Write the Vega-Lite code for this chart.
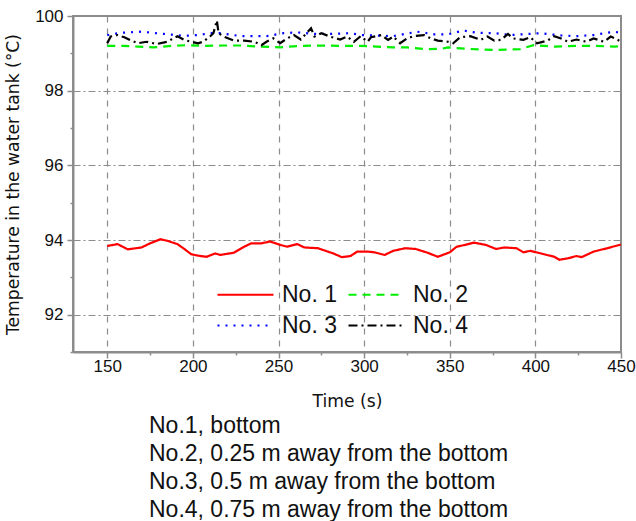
{
  "$schema": "https://vega.github.io/schema/vega-lite/v6.json",
  "width": 548,
  "height": 336,
  "autosize": {"type": "none"},
  "padding": {"left": 73, "top": 16, "right": 15, "bottom": 169},
  "background": "white",
  "view": {"stroke": "#8c8c8c", "strokeWidth": 2},
  "config": {
    "axis": {
      "domainColor": "#8c8c8c",
      "domainWidth": 2,
      "tickColor": "#8c8c8c",
      "tickWidth": 1.5,
      "gridColor": "#8c8c8c",
      "gridWidth": 1.2,
      "labelFont": "Liberation Sans",
      "labelFontSize": 17,
      "labelColor": "#111111",
      "titleFont": "DejaVu Sans",
      "titleFontSize": 17.2,
      "titleFontWeight": "normal",
      "titleColor": "#111111"
    }
  },
  "title": {
    "text": ["No.1, bottom", "No.2, 0.25 m away from the bottom", "No.3, 0.5 m away from the bottom", "No.4, 0.75 m away from the bottom"],
    "orient": "bottom",
    "anchor": "start",
    "frame": "group",
    "dx": 76,
    "offset": 6,
    "font": "Liberation Sans",
    "fontSize": 23,
    "fontWeight": "normal",
    "lineHeight": 28,
    "color": "#111111"
  },
  "data": {
    "values": [
      {"time": 150, "temp": 93.84, "sensor": "No. 1"},
      {"time": 156, "temp": 93.89, "sensor": "No. 1"},
      {"time": 162, "temp": 93.75, "sensor": "No. 1"},
      {"time": 170, "temp": 93.80, "sensor": "No. 1"},
      {"time": 175, "temp": 93.91, "sensor": "No. 1"},
      {"time": 181, "temp": 94.02, "sensor": "No. 1"},
      {"time": 185, "temp": 93.98, "sensor": "No. 1"},
      {"time": 191, "temp": 93.89, "sensor": "No. 1"},
      {"time": 195, "temp": 93.76, "sensor": "No. 1"},
      {"time": 199, "temp": 93.62, "sensor": "No. 1"},
      {"time": 203, "temp": 93.58, "sensor": "No. 1"},
      {"time": 208, "temp": 93.55, "sensor": "No. 1"},
      {"time": 213, "temp": 93.64, "sensor": "No. 1"},
      {"time": 216, "temp": 93.60, "sensor": "No. 1"},
      {"time": 224, "temp": 93.66, "sensor": "No. 1"},
      {"time": 230, "temp": 93.82, "sensor": "No. 1"},
      {"time": 234, "temp": 93.91, "sensor": "No. 1"},
      {"time": 240, "temp": 93.91, "sensor": "No. 1"},
      {"time": 245, "temp": 93.96, "sensor": "No. 1"},
      {"time": 251, "temp": 93.87, "sensor": "No. 1"},
      {"time": 255, "temp": 93.82, "sensor": "No. 1"},
      {"time": 261, "temp": 93.89, "sensor": "No. 1"},
      {"time": 265, "temp": 93.80, "sensor": "No. 1"},
      {"time": 273, "temp": 93.78, "sensor": "No. 1"},
      {"time": 282, "temp": 93.64, "sensor": "No. 1"},
      {"time": 287, "temp": 93.54, "sensor": "No. 1"},
      {"time": 292, "temp": 93.57, "sensor": "No. 1"},
      {"time": 296, "temp": 93.69, "sensor": "No. 1"},
      {"time": 302, "temp": 93.69, "sensor": "No. 1"},
      {"time": 306, "temp": 93.67, "sensor": "No. 1"},
      {"time": 312, "temp": 93.60, "sensor": "No. 1"},
      {"time": 317, "temp": 93.71, "sensor": "No. 1"},
      {"time": 324, "temp": 93.78, "sensor": "No. 1"},
      {"time": 330, "temp": 93.76, "sensor": "No. 1"},
      {"time": 337, "temp": 93.66, "sensor": "No. 1"},
      {"time": 343, "temp": 93.55, "sensor": "No. 1"},
      {"time": 350, "temp": 93.67, "sensor": "No. 1"},
      {"time": 354, "temp": 93.82, "sensor": "No. 1"},
      {"time": 360, "temp": 93.88, "sensor": "No. 1"},
      {"time": 364, "temp": 93.93, "sensor": "No. 1"},
      {"time": 371, "temp": 93.87, "sensor": "No. 1"},
      {"time": 377, "temp": 93.76, "sensor": "No. 1"},
      {"time": 382, "temp": 93.80, "sensor": "No. 1"},
      {"time": 389, "temp": 93.78, "sensor": "No. 1"},
      {"time": 393, "temp": 93.67, "sensor": "No. 1"},
      {"time": 397, "temp": 93.71, "sensor": "No. 1"},
      {"time": 405, "temp": 93.62, "sensor": "No. 1"},
      {"time": 411, "temp": 93.55, "sensor": "No. 1"},
      {"time": 414, "temp": 93.47, "sensor": "No. 1"},
      {"time": 419, "temp": 93.51, "sensor": "No. 1"},
      {"time": 424, "temp": 93.57, "sensor": "No. 1"},
      {"time": 427, "temp": 93.54, "sensor": "No. 1"},
      {"time": 434, "temp": 93.69, "sensor": "No. 1"},
      {"time": 442, "temp": 93.78, "sensor": "No. 1"},
      {"time": 450, "temp": 93.88, "sensor": "No. 1"},

      {"time": 150, "temp": 99.20, "sensor": "No. 2"},
      {"time": 159, "temp": 99.20, "sensor": "No. 2"},
      {"time": 168, "temp": 99.18, "sensor": "No. 2"},
      {"time": 177, "temp": 99.16, "sensor": "No. 2"},
      {"time": 188, "temp": 99.20, "sensor": "No. 2"},
      {"time": 197, "temp": 99.22, "sensor": "No. 2"},
      {"time": 206, "temp": 99.20, "sensor": "No. 2"},
      {"time": 218, "temp": 99.21, "sensor": "No. 2"},
      {"time": 228, "temp": 99.21, "sensor": "No. 2"},
      {"time": 239, "temp": 99.18, "sensor": "No. 2"},
      {"time": 251, "temp": 99.16, "sensor": "No. 2"},
      {"time": 263, "temp": 99.20, "sensor": "No. 2"},
      {"time": 275, "temp": 99.21, "sensor": "No. 2"},
      {"time": 286, "temp": 99.20, "sensor": "No. 2"},
      {"time": 298, "temp": 99.20, "sensor": "No. 2"},
      {"time": 317, "temp": 99.16, "sensor": "No. 2"},
      {"time": 325, "temp": 99.16, "sensor": "No. 2"},
      {"time": 337, "temp": 99.11, "sensor": "No. 2"},
      {"time": 345, "temp": 99.12, "sensor": "No. 2"},
      {"time": 349, "temp": 99.16, "sensor": "No. 2"},
      {"time": 360, "temp": 99.12, "sensor": "No. 2"},
      {"time": 376, "temp": 99.09, "sensor": "No. 2"},
      {"time": 384, "temp": 99.10, "sensor": "No. 2"},
      {"time": 391, "temp": 99.11, "sensor": "No. 2"},
      {"time": 399, "temp": 99.22, "sensor": "No. 2"},
      {"time": 411, "temp": 99.18, "sensor": "No. 2"},
      {"time": 424, "temp": 99.20, "sensor": "No. 2"},
      {"time": 434, "temp": 99.20, "sensor": "No. 2"},
      {"time": 446, "temp": 99.18, "sensor": "No. 2"},
      {"time": 450, "temp": 99.19, "sensor": "No. 2"},

      {"time": 150, "temp": 99.49, "sensor": "No. 3"},
      {"time": 158, "temp": 99.55, "sensor": "No. 3"},
      {"time": 170, "temp": 99.58, "sensor": "No. 3"},
      {"time": 183, "temp": 99.52, "sensor": "No. 3"},
      {"time": 195, "temp": 99.47, "sensor": "No. 3"},
      {"time": 203, "temp": 99.49, "sensor": "No. 3"},
      {"time": 210, "temp": 99.54, "sensor": "No. 3"},
      {"time": 216, "temp": 99.54, "sensor": "No. 3"},
      {"time": 228, "temp": 99.46, "sensor": "No. 3"},
      {"time": 243, "temp": 99.46, "sensor": "No. 3"},
      {"time": 253, "temp": 99.54, "sensor": "No. 3"},
      {"time": 261, "temp": 99.56, "sensor": "No. 3"},
      {"time": 271, "temp": 99.52, "sensor": "No. 3"},
      {"time": 282, "temp": 99.52, "sensor": "No. 3"},
      {"time": 292, "temp": 99.54, "sensor": "No. 3"},
      {"time": 298, "temp": 99.49, "sensor": "No. 3"},
      {"time": 317, "temp": 99.46, "sensor": "No. 3"},
      {"time": 331, "temp": 99.58, "sensor": "No. 3"},
      {"time": 341, "temp": 99.51, "sensor": "No. 3"},
      {"time": 349, "temp": 99.51, "sensor": "No. 3"},
      {"time": 358, "temp": 99.61, "sensor": "No. 3"},
      {"time": 366, "temp": 99.55, "sensor": "No. 3"},
      {"time": 376, "temp": 99.54, "sensor": "No. 3"},
      {"time": 386, "temp": 99.49, "sensor": "No. 3"},
      {"time": 403, "temp": 99.54, "sensor": "No. 3"},
      {"time": 415, "temp": 99.48, "sensor": "No. 3"},
      {"time": 424, "temp": 99.46, "sensor": "No. 3"},
      {"time": 434, "temp": 99.49, "sensor": "No. 3"},
      {"time": 446, "temp": 99.58, "sensor": "No. 3"},
      {"time": 450, "temp": 99.55, "sensor": "No. 3"},

      {"time": 150, "temp": 99.27, "sensor": "No. 4"},
      {"time": 152, "temp": 99.45, "sensor": "No. 4"},
      {"time": 156, "temp": 99.49, "sensor": "No. 4"},
      {"time": 160, "temp": 99.43, "sensor": "No. 4"},
      {"time": 164, "temp": 99.34, "sensor": "No. 4"},
      {"time": 168, "temp": 99.27, "sensor": "No. 4"},
      {"time": 173, "temp": 99.31, "sensor": "No. 4"},
      {"time": 179, "temp": 99.25, "sensor": "No. 4"},
      {"time": 185, "temp": 99.31, "sensor": "No. 4"},
      {"time": 191, "temp": 99.46, "sensor": "No. 4"},
      {"time": 195, "temp": 99.36, "sensor": "No. 4"},
      {"time": 199, "temp": 99.31, "sensor": "No. 4"},
      {"time": 203, "temp": 99.27, "sensor": "No. 4"},
      {"time": 206, "temp": 99.31, "sensor": "No. 4"},
      {"time": 210, "temp": 99.45, "sensor": "No. 4"},
      {"time": 212, "temp": 99.54, "sensor": "No. 4"},
      {"time": 214, "temp": 99.88, "sensor": "No. 4"},
      {"time": 215, "temp": 99.54, "sensor": "No. 4"},
      {"time": 218, "temp": 99.45, "sensor": "No. 4"},
      {"time": 224, "temp": 99.34, "sensor": "No. 4"},
      {"time": 230, "temp": 99.34, "sensor": "No. 4"},
      {"time": 236, "temp": 99.31, "sensor": "No. 4"},
      {"time": 240, "temp": 99.22, "sensor": "No. 4"},
      {"time": 243, "temp": 99.31, "sensor": "No. 4"},
      {"time": 247, "temp": 99.40, "sensor": "No. 4"},
      {"time": 251, "temp": 99.27, "sensor": "No. 4"},
      {"time": 255, "temp": 99.40, "sensor": "No. 4"},
      {"time": 259, "temp": 99.49, "sensor": "No. 4"},
      {"time": 263, "temp": 99.37, "sensor": "No. 4"},
      {"time": 269, "temp": 99.67, "sensor": "No. 4"},
      {"time": 271, "temp": 99.45, "sensor": "No. 4"},
      {"time": 275, "temp": 99.54, "sensor": "No. 4"},
      {"time": 280, "temp": 99.45, "sensor": "No. 4"},
      {"time": 286, "temp": 99.37, "sensor": "No. 4"},
      {"time": 290, "temp": 99.45, "sensor": "No. 4"},
      {"time": 294, "temp": 99.31, "sensor": "No. 4"},
      {"time": 298, "temp": 99.46, "sensor": "No. 4"},
      {"time": 302, "temp": 99.31, "sensor": "No. 4"},
      {"time": 304, "temp": 99.43, "sensor": "No. 4"},
      {"time": 310, "temp": 99.49, "sensor": "No. 4"},
      {"time": 314, "temp": 99.36, "sensor": "No. 4"},
      {"time": 317, "temp": 99.45, "sensor": "No. 4"},
      {"time": 321, "temp": 99.27, "sensor": "No. 4"},
      {"time": 325, "temp": 99.40, "sensor": "No. 4"},
      {"time": 329, "temp": 99.46, "sensor": "No. 4"},
      {"time": 335, "temp": 99.49, "sensor": "No. 4"},
      {"time": 339, "temp": 99.40, "sensor": "No. 4"},
      {"time": 343, "temp": 99.34, "sensor": "No. 4"},
      {"time": 349, "temp": 99.31, "sensor": "No. 4"},
      {"time": 352, "temp": 99.27, "sensor": "No. 4"},
      {"time": 356, "temp": 99.43, "sensor": "No. 4"},
      {"time": 362, "temp": 99.46, "sensor": "No. 4"},
      {"time": 368, "temp": 99.36, "sensor": "No. 4"},
      {"time": 372, "temp": 99.45, "sensor": "No. 4"},
      {"time": 376, "temp": 99.34, "sensor": "No. 4"},
      {"time": 380, "temp": 99.36, "sensor": "No. 4"},
      {"time": 384, "temp": 99.52, "sensor": "No. 4"},
      {"time": 387, "temp": 99.40, "sensor": "No. 4"},
      {"time": 393, "temp": 99.36, "sensor": "No. 4"},
      {"time": 397, "temp": 99.43, "sensor": "No. 4"},
      {"time": 401, "temp": 99.27, "sensor": "No. 4"},
      {"time": 407, "temp": 99.34, "sensor": "No. 4"},
      {"time": 411, "temp": 99.46, "sensor": "No. 4"},
      {"time": 415, "temp": 99.40, "sensor": "No. 4"},
      {"time": 419, "temp": 99.31, "sensor": "No. 4"},
      {"time": 424, "temp": 99.37, "sensor": "No. 4"},
      {"time": 430, "temp": 99.31, "sensor": "No. 4"},
      {"time": 434, "temp": 99.40, "sensor": "No. 4"},
      {"time": 440, "temp": 99.31, "sensor": "No. 4"},
      {"time": 444, "temp": 99.45, "sensor": "No. 4"},
      {"time": 449, "temp": 99.34, "sensor": "No. 4"}
    ]
  },
  "mark": {"type": "line", "strokeWidth": 2.2, "clip": true},
  "encoding": {
    "x": {
      "field": "time",
      "type": "quantitative",
      "scale": {"domain": [130, 450], "nice": false, "zero": false},
      "axis": {
        "title": "Time (s)",
        "values": [150, 175, 200, 225, 250, 275, 300, 325, 350, 375, 400, 425, 450],
        "labelExpr": "datum.value % 50 === 0 ? datum.label : ''",
        "grid": true,
        "gridDash": [6, 6],
        "gridOpacity": {"condition": {"test": "datum.value % 50 === 0 && datum.value < 450", "value": 1}, "value": 0},
        "tickSize": {"condition": {"test": "datum.value % 50 === 0", "value": 6}, "value": 3},
        "labelPadding": 0,
        "labelFlush": false,
        "labelOverlap": false,
        "titlePadding": 18
      }
    },
    "y": {
      "field": "temp",
      "type": "quantitative",
      "scale": {"domain": [91, 100], "nice": false, "zero": false},
      "axis": {
        "title": "Temperature in the water tank (°C)",
        "values": [91, 92, 93, 94, 95, 96, 97, 98, 99, 100],
        "labelExpr": "datum.value % 2 === 0 ? datum.label : ''",
        "grid": true,
        "gridDash": [7, 3, 2, 3],
        "gridOpacity": {"condition": {"test": "datum.value % 2 === 0 && datum.value < 100", "value": 1}, "value": 0},
        "tickSize": {"condition": {"test": "datum.value % 2 === 0", "value": 6}, "value": 3},
        "labelPadding": 4,
        "labelOverlap": false,
        "titlePadding": 12
      }
    },
    "color": {
      "field": "sensor",
      "type": "nominal",
      "scale": {"domain": ["No. 1", "No. 2", "No. 3", "No. 4"], "range": ["#ff0000", "#00ee00", "#0000ff", "#000000"]},
      "legend": {
        "orient": "none",
        "direction": "horizontal",
        "legendX": 133,
        "legendY": 267,
        "columns": 2,
        "title": null,
        "symbolType": "M0,0H8",
        "symbolSize": 196,
        "symbolStrokeWidth": 2,
        "labelFont": "Liberation Sans",
        "labelFontSize": 23,
        "labelColor": "#111111",
        "labelOffset": 53,
        "columnPadding": 0,
        "rowPadding": 7,
        "padding": 0
      }
    },
    "strokeDash": {
      "field": "sensor",
      "type": "nominal",
      "scale": {"domain": ["No. 1", "No. 2", "No. 3", "No. 4"], "range": [[1, 0], [8, 6], [2, 6], [9, 4, 2, 4]]},
      "legend": {
        "orient": "none",
        "direction": "horizontal",
        "legendX": 133,
        "legendY": 267,
        "columns": 2,
        "title": null,
        "symbolType": "M0,0H8",
        "symbolSize": 196,
        "symbolStrokeWidth": 2,
        "labelFont": "Liberation Sans",
        "labelFontSize": 23,
        "labelColor": "#111111",
        "labelOffset": 53,
        "columnPadding": 0,
        "rowPadding": 7,
        "padding": 0
      }
    }
  }
}
